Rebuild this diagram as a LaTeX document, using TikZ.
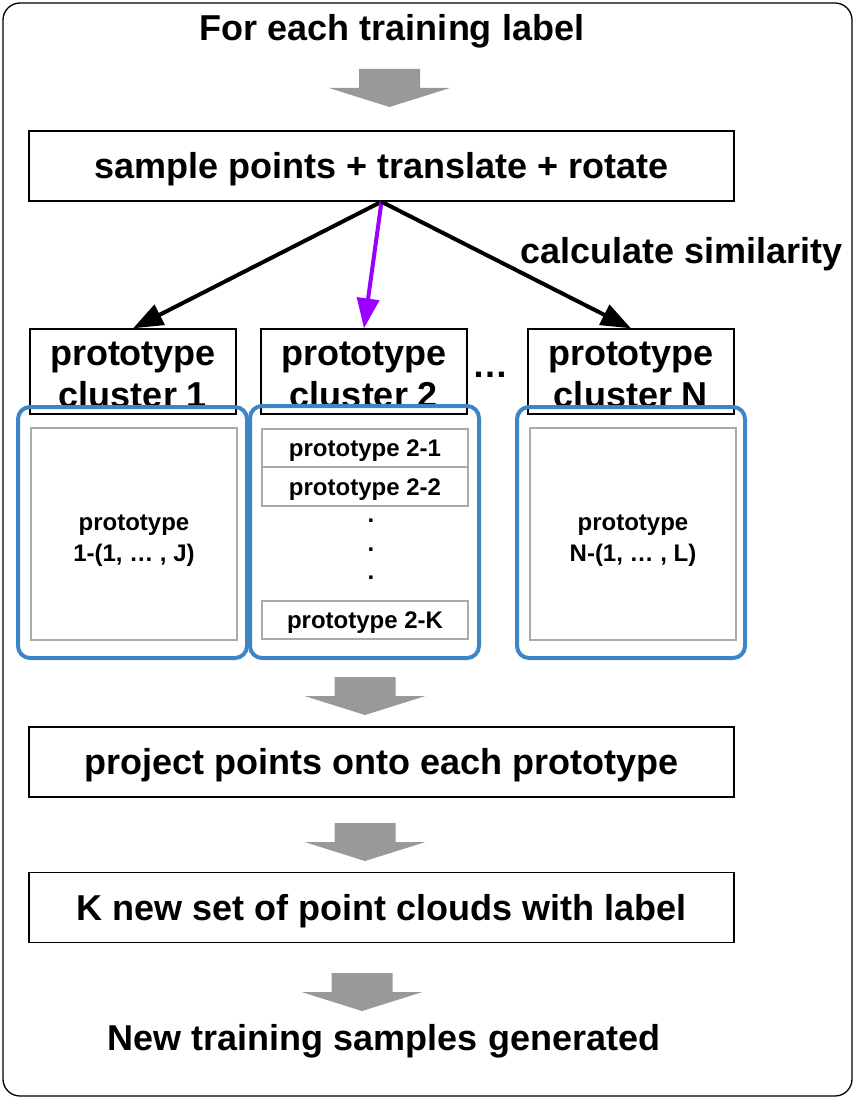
\documentclass[tikz,border=0pt]{standalone}
\usepackage{fontspec}
\setmainfont{Liberation Sans}
\usetikzlibrary{arrows.meta}
\definecolor{clusterblue}{HTML}{3D85C6}
\definecolor{flowpurple}{HTML}{9900FF}
\definecolor{blockgray}{HTML}{999999}
\definecolor{protogray}{HTML}{AAAAAA}

\begin{document}
\begin{tikzpicture}[x=1pt,y=-1pt,
  big/.style={font=\fontsize{36}{42}\selectfont\bfseries},
  small/.style={font=\fontsize{24}{31}\selectfont\bfseries},
  stepbox/.style={draw, line width=1.5pt, minimum width=705pt, minimum height=70pt, inner sep=0pt, big, text height=26pt, text depth=1pt},
  headbox/.style={draw, line width=1.3pt, minimum width=206pt, minimum height=85pt, inner sep=0pt},
  clusterframe/.style={draw=clusterblue, line width=4pt, rounded corners=12pt, inner sep=0pt},
  protobox/.style={draw=protogray, line width=1.5pt, minimum width=206pt, inner sep=0pt, small, text height=17pt, text depth=0pt},
  flow/.style={line width=4pt, -{Triangle[length=30pt,width=22pt]}},
  blockarrow/.pic={\fill[blockgray] (-30.5,0) -- (30.5,0) -- (30.5,19) -- (60.5,19) -- (0,38) -- (-60.5,19) -- (-30.5,19) -- cycle;}
]
\useasboundingbox (0,0) rectangle (855,1099);

% outer frame
\draw[line width=1.3pt, rounded corners=17pt] (3,3) rectangle (852,1096);

% title and first step
\node[big, anchor=base] (title) at (392,41) {For each training label};
\pic at (389.5,69) {blockarrow};
\node[stepbox] (sample) at (381.5,166) {sample points + translate + rotate};

% cluster headers
\node[headbox] (h1) at (133,371.5) {};
\node[headbox] (h2) at (364,371.5) {};
\node[headbox] (hN) at (631,371.5) {};
\node[big, align=center] (h1t) at (133,375) {prototype\\cluster 1};
\node[big, align=center] (h2t) at (364,375) {prototype\\cluster 2};
\node[big, align=center] (hNt) at (631,375) {prototype\\cluster N};
\node[big, anchor=base] (gap) at (490,377) {…};

% similarity connectors
\draw[flow] (sample.south) -- (h1.north);
\draw[flow, flowpurple] (sample.south) -- (h2.north);
\draw[flow] (sample.south) -- (hN.north);
\node[big, anchor=base west] (sim) at (517,263) {calculate similarity};

% cluster 1 contents
\node[protobox, minimum height=212pt] (p1) at (134,534) {};
\node[small, align=center] (t1) at (134,540.5) {prototype\\1-(1, … , J)};

% cluster 2 contents
\node[protobox, minimum height=38pt] (p21) at (365,448) {prototype 2-1};
\node[protobox, minimum height=39pt] (p22) at (365,486.5) {prototype 2-2};
\node[small, anchor=base] (d1) at (371,522) {.};
\node[small, anchor=base] (d2) at (371,551) {.};
\node[small, anchor=base] (d3) at (371,579) {.};
\node[protobox, minimum height=38pt] (p2K) at (365,620) {prototype 2-K};

% cluster N contents
\node[protobox, minimum height=212pt] (pN) at (633,534) {};
\node[small, align=center] (tN) at (633,540.5) {prototype\\N-(1, … , L)};

% cluster frames
\node[clusterframe, minimum width=229pt, minimum height=251pt] (c1) at (132.5,532.5) {};
\node[clusterframe, minimum width=229pt, minimum height=252pt] (c2) at (364.5,532) {};
\node[clusterframe, minimum width=228pt, minimum height=251pt] (cN) at (631,532.5) {};

% remaining steps
\pic at (365,677) {blockarrow};
\node[stepbox] (proj) at (381.5,762) {project points onto each prototype};
\pic at (365,823) {blockarrow};
\node[stepbox] (knew) at (381.5,907.5) {K new set of point clouds with label};
\pic at (362,973) {blockarrow};
\node[big, anchor=base] (gen) at (384,1050) {New training samples generated};
\end{tikzpicture}
\end{document}
